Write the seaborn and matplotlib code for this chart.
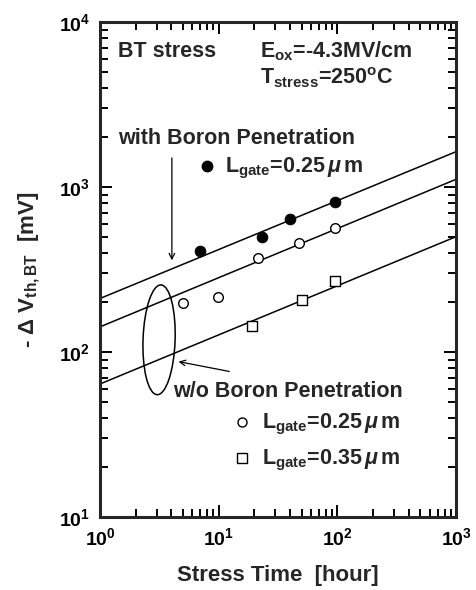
import numpy as np
import pandas as pd
import matplotlib
matplotlib.use("Agg")
import matplotlib.pyplot as plt
from matplotlib.patches import Ellipse
from matplotlib.ticker import LogLocator, FixedFormatter, FixedLocator, NullFormatter
import seaborn as sns

# measured points (stress time in hours, -dVth in mV)
boron_t = [7.0, 23.0, 40.0, 95.0]
boron_v = [410, 498, 640, 810]

nob25_t = [5.0, 9.9, 21.4, 47.5, 95.0]
nob25_v = [199, 216, 372, 458, 565]

nob35_t = [19.0, 50.0, 95.0]
nob35_v = [144, 208, 270]

# fitted power-law lines, read at t=1 and t=1000
fit_t = [1, 1000]
fit_boron = [211, 1637]
fit_nob25 = [142, 1113]
fit_nob35 = [64, 500]

sns.set_style("ticks")
plt.rcParams['font.family'] = ['Liberation Sans', 'DejaVu Sans']
plt.rcParams['font.weight'] = 'bold'
plt.rcParams['mathtext.fontset'] = 'custom'
plt.rcParams['mathtext.rm'] = 'Liberation Sans:bold'
plt.rcParams['mathtext.it'] = 'Liberation Sans:bold:italic'
plt.rcParams['mathtext.bf'] = 'Liberation Sans:bold'

fig = plt.figure(figsize=(4.76, 5.90), dpi=100)
ax = fig.add_axes([0.210, 0.1237, 0.748, 0.839])

lines = pd.DataFrame({
    't': fit_t * 3,
    'v': fit_boron + fit_nob25 + fit_nob35,
    'grp': ['b'] * 2 + ['n25'] * 2 + ['n35'] * 2,
})
sns.lineplot(data=lines, x='t', y='v', units='grp', estimator=None,
             color='black', linewidth=1.1, ax=ax)

sns.scatterplot(x=boron_t, y=boron_v, marker='o', s=60, color='black',
                edgecolor='black', ax=ax, zorder=3)
sns.scatterplot(x=nob25_t, y=nob25_v, marker='o', s=48, facecolor='white',
                edgecolor='black', linewidth=1.0, ax=ax, zorder=3)
sns.scatterplot(x=nob35_t, y=nob35_v, marker='s', s=52, facecolor='white',
                edgecolor='black', linewidth=1.0, ax=ax, zorder=3)

ax.set_xscale('log')
ax.set_yscale('log')
ax.set_xlim(1, 1000)
ax.set_ylim(10, 10000)

ax.xaxis.set_major_locator(FixedLocator([1, 10, 100, 1000]))
ax.xaxis.set_major_formatter(FixedFormatter([r'10$^{0}$', r'10$^{1}$', r'10$^{2}$', r'10$^{3}$']))
ax.yaxis.set_major_locator(FixedLocator([10, 100, 1000, 10000]))
ax.yaxis.set_major_formatter(FixedFormatter([r'10$^{1}$', r'10$^{2}$', r'10$^{3}$', r'10$^{4}$']))
ax.xaxis.set_minor_locator(LogLocator(base=10, subs=np.arange(2, 10)))
ax.yaxis.set_minor_locator(LogLocator(base=10, subs=np.arange(2, 10)))
ax.xaxis.set_minor_formatter(NullFormatter())
ax.yaxis.set_minor_formatter(NullFormatter())

ax.tick_params(which='both', direction='in', top=True, right=True, width=1.4,
               labelsize=14, colors='black')
ax.tick_params(which='major', length=8.5, pad=7)
ax.tick_params(which='minor', length=5.5)
for sp in ax.spines.values():
    sp.set_linewidth(2.2)
    sp.set_visible(True)

ax.set_xlabel('Stress Time  [hour]', fontsize=16, fontweight='bold', labelpad=12)
ax.set_ylabel(r'- $\Delta$ V$_{\mathrm{th,BT}}$  [mV]', fontsize=16, fontweight='bold', labelpad=12)

tk = dict(transform=ax.transAxes, fontsize=15.5, fontweight='bold', va='baseline')
ax.text(0.051, 0.929, 'BT stress', **tk)
ax.text(0.449, 0.929, r'E$_{\mathrm{ox}}$=-4.3MV/cm', **tk)
ax.text(0.449, 0.873, r'T$_{\mathrm{stress}}$=250$^{\mathrm{o}}$C', **tk)
ax.text(0.051, 0.754, 'with Boron Penetration', **tk)
ax.text(0.351, 0.697, r'L$_{\mathrm{gate}}$=0.25$\,\mu\,$m', **tk)
ax.text(0.205, 0.242, 'w/o Boron Penetration', **tk)
ax.text(0.455, 0.180, r'L$_{\mathrm{gate}}$=0.25$\,\mu\,$m', **tk)
ax.text(0.455, 0.107, r'L$_{\mathrm{gate}}$=0.35$\,\mu\,$m', **tk)

ax.plot([0.301], [0.709], 'o', color='black', ms=7.5, transform=ax.transAxes)
ax.plot([0.399], [0.192], 'o', mfc='white', mec='black', ms=6.5, mew=1.0, transform=ax.transAxes)
ax.plot([0.399], [0.119], 's', mfc='white', mec='black', ms=6.5, mew=1.0, transform=ax.transAxes)

ax.annotate('', xy=(0.202, 0.513), xytext=(0.202, 0.731), xycoords='axes fraction',
            arrowprops=dict(arrowstyle='->', color='black', lw=0.9))
ax.annotate('', xy=(0.213, 0.315), xytext=(0.371, 0.293), xycoords='axes fraction',
            arrowprops=dict(arrowstyle='->', color='black', lw=0.9))
ax.add_patch(Ellipse((0.166, 0.358), 0.09, 0.222, angle=-3, transform=ax.transAxes,
                     fill=False, edgecolor='black', lw=1.1))

fig.savefig('out.png', dpi=100)
